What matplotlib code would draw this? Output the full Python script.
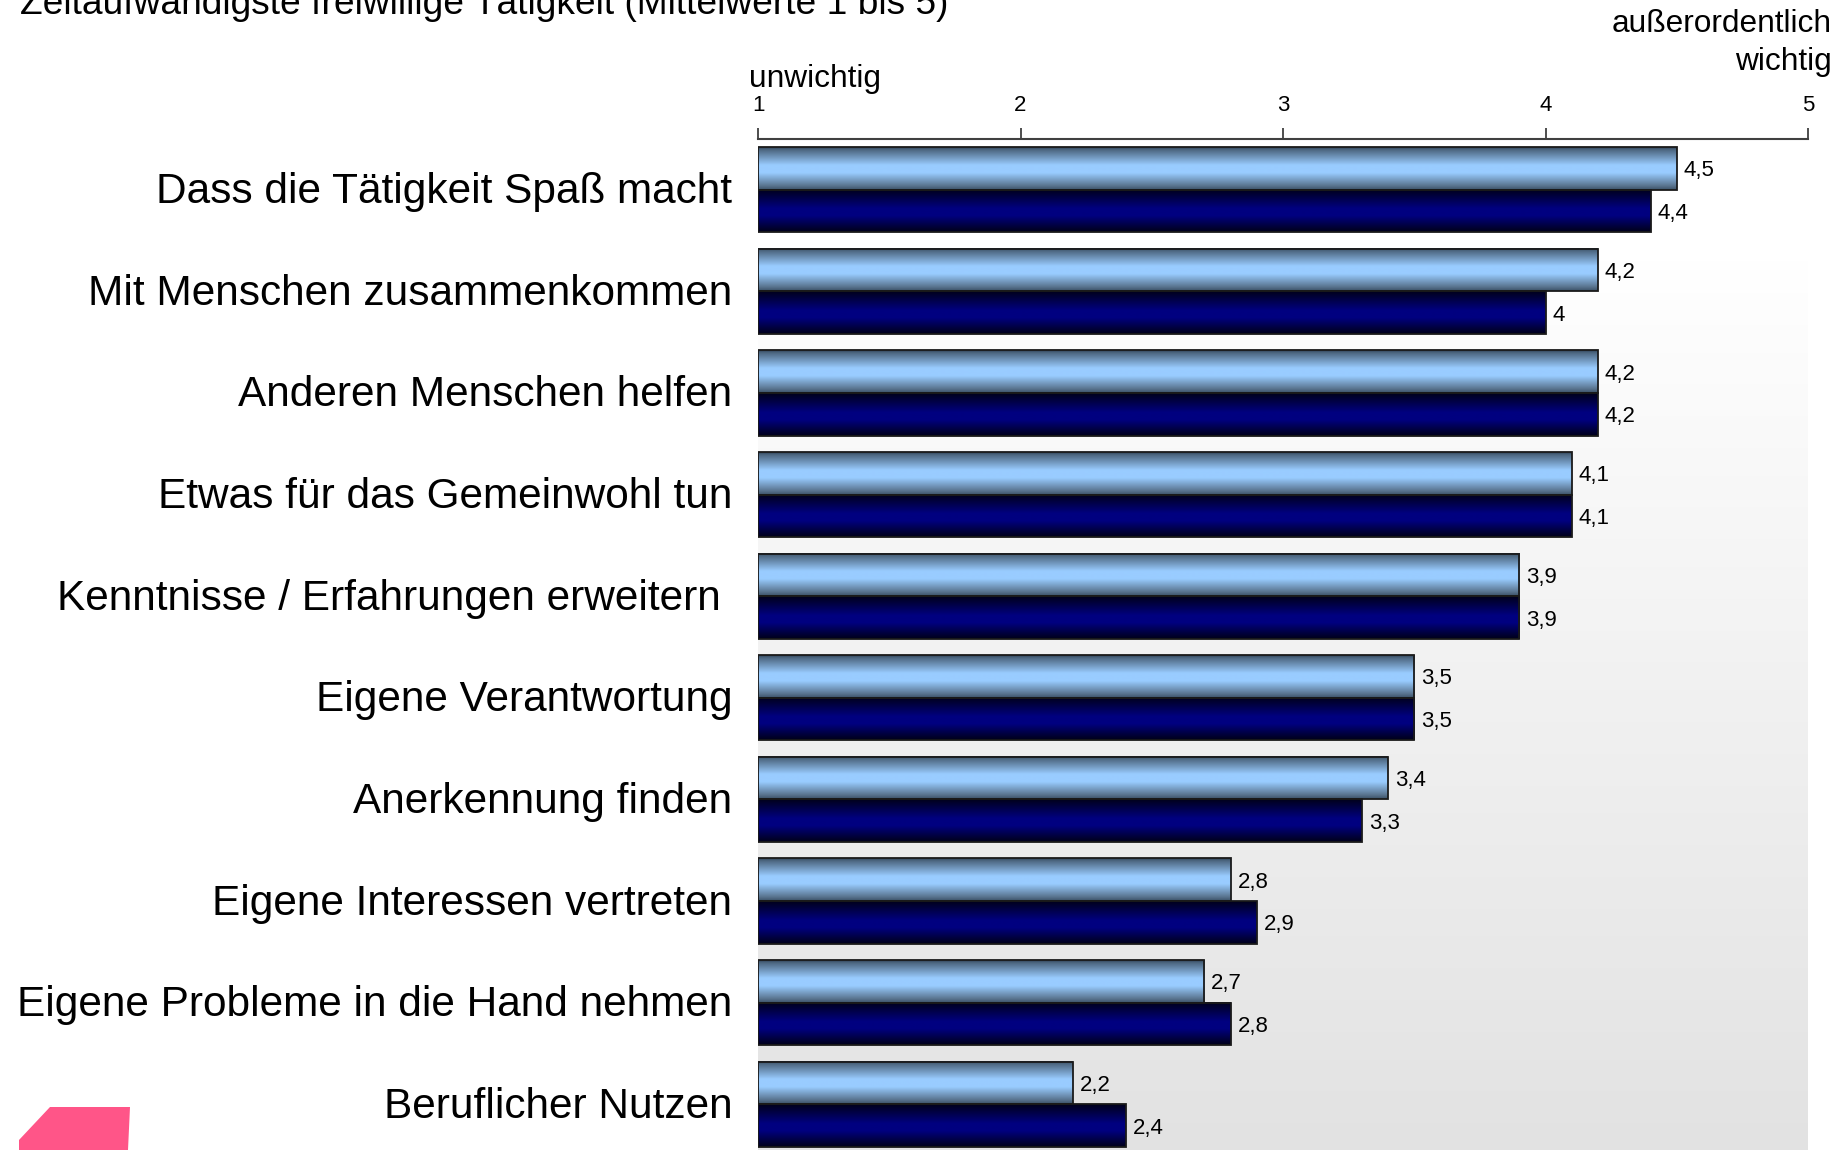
import numpy as np
import matplotlib
matplotlib.use('Agg')
import matplotlib.pyplot as plt
from matplotlib.colors import LinearSegmentedColormap
from matplotlib.patches import Polygon
from matplotlib.transforms import ScaledTranslation

plt.rcParams['font.family'] = ['Liberation Sans', 'DejaVu Sans']

# ---------------- data ----------------
title = "Zeitaufwändigste freiwillige Tätigkeit (Mittelwerte 1 bis 5)"
categories = [
    "Dass die Tätigkeit Spaß macht",
    "Mit Menschen zusammenkommen",
    "Anderen Menschen helfen",
    "Etwas für das Gemeinwohl tun",
    "Kenntnisse / Erfahrungen erweitern\u00a0",
    "Eigene Verantwortung",
    "Anerkennung finden",
    "Eigene Interessen vertreten",
    "Eigene Probleme in die Hand nehmen",
    "Beruflicher Nutzen",
]
series_light = [4.5, 4.2, 4.2, 4.1, 3.9, 3.5, 3.4, 2.8, 2.7, 2.2]
series_dark = [4.4, 4.0, 4.2, 4.1, 3.9, 3.5, 3.3, 2.9, 2.8, 2.4]
x_ticks = [1, 2, 3, 4, 5]
x_tick_labels = ["1", "2", "3", "4", "5"]
scale_low = "unwichtig"
scale_high = "außerordentlich\nwichtig"

XMIN, XMAX = 1, 5


def fmt(v):
    return f"{v:g}".replace(".", ",")


# ---------------- figure ----------------
W, H = 1838, 1150
fig = plt.figure(figsize=(W / 100, H / 100), dpi=100)
ax = fig.add_axes([758 / W, 1 - 1155 / H, 1050 / W, (1155 - 139) / H])

# background gradient (white top -> light gray bottom)
bg_cmap = LinearSegmentedColormap.from_list(
    "bg", [(0, "#ffffff"), (0.12, "#ffffff"), (1, "#e2e2e2")])
ax.imshow(np.linspace(0, 1, 256).reshape(-1, 1), cmap=bg_cmap,
          extent=(0, 1, 0, 1), transform=ax.transAxes, aspect="auto",
          zorder=0, origin="upper")
ax.patch.set_visible(False)

light_cmap = LinearSegmentedColormap.from_list(
    "light", [(0, "#2e4256"), (0.06, "#4c6680"), (0.42, "#99ccff"),
              (0.6, "#99ccff"), (0.9, "#5a7590"), (1, "#3a5066")])
dark_cmap = LinearSegmentedColormap.from_list(
    "dark", [(0, "#00001a"), (0.45, "#000080"), (0.62, "#000080"),
             (1, "#000018")])

h = 0.42
ypos = np.arange(len(categories))
bars_l = ax.barh(ypos - h / 2, np.array(series_light) - XMIN, height=h,
                 left=XMIN, facecolor="none", edgecolor="#1a1a1a",
                 linewidth=1.3, zorder=3)
bars_d = ax.barh(ypos + h / 2, np.array(series_dark) - XMIN, height=h,
                 left=XMIN, facecolor="none", edgecolor="#1a1a1a",
                 linewidth=1.3, zorder=3)

grad = np.linspace(0, 1, 256).reshape(-1, 1)
for bars, cmap in ((bars_l, light_cmap), (bars_d, dark_cmap)):
    for b in bars:
        x0, y0, bw, bh = b.get_x(), b.get_y(), b.get_width(), b.get_height()
        ax.imshow(grad, cmap=cmap, extent=(x0, x0 + bw, y0 + bh, y0),
                  aspect="auto", zorder=2, origin="upper",
                  interpolation="bilinear")

lbls = ax.bar_label(bars_l, labels=[fmt(v) for v in series_light],
                    padding=5, fontsize=16)
lbls += ax.bar_label(bars_d, labels=[fmt(v) for v in series_dark],
                     padding=5, fontsize=16)
for t in lbls:
    t.set_verticalalignment("center_baseline")

ax.set_xlim(XMIN, XMAX)
ax.set_ylim(len(categories) - 0.5, -0.5)

ax.xaxis.tick_top()
ax.set_xticks(x_ticks, x_tick_labels)
ax.tick_params(axis="x", direction="out", length=8, width=1.3,
               color="#404040", labelsize=16, pad=8.3)
ax.set_yticks(ypos, categories)
ax.tick_params(axis="y", length=0, pad=18.5, labelsize=30.5)
shift = ScaledTranslation(0, 2 / 100, fig.dpi_scale_trans)
for lab in ax.get_yticklabels():
    lab.set_transform(lab.get_transform() + shift)

for s in ("left", "right", "bottom"):
    ax.spines[s].set_visible(False)
ax.spines["top"].set_color("#404040")
ax.spines["top"].set_linewidth(1.5)

# texts
fig.text(20 / W, 1 - 13.5 / H, title, ha="left", va="baseline",
         fontsize=26.7)
fig.text(749 / W, 1 - 79.5 / H, scale_low, ha="left", va="center",
         fontsize=22.8)
fig.text(1832 / W, 1 - 43 / H, scale_high, ha="right", va="center",
         multialignment="right", linespacing=1.31, fontsize=22.8)

# pink decoration (cut-off logo) bottom left
fig.patches.append(Polygon(
    [(19 / W, 0), (19 / W, 1 - 1140 / H), (50 / W, 1 - 1107 / H),
     (130 / W, 1 - 1107 / H), (128 / W, 0)],
    closed=True, transform=fig.transFigure, facecolor="#ff5588",
    edgecolor="none"))

fig.savefig("out.png", dpi=100)
